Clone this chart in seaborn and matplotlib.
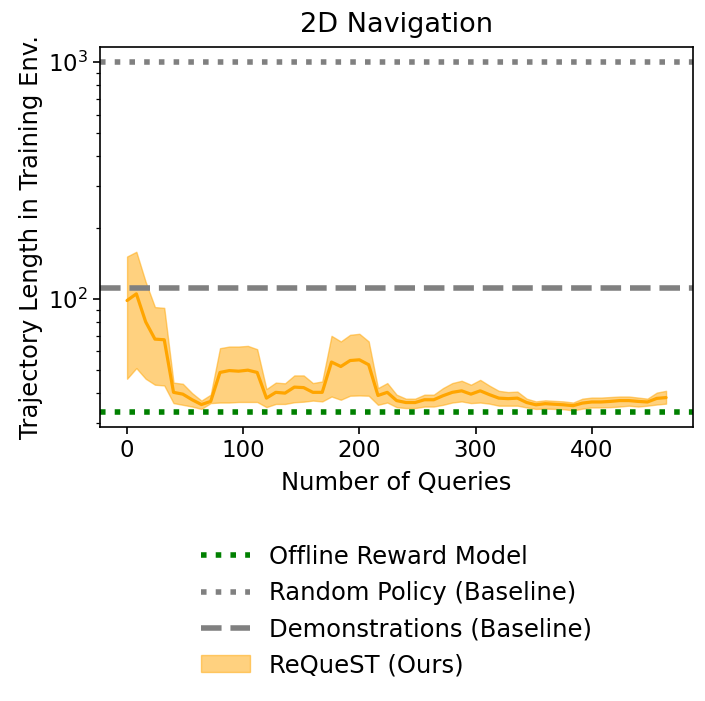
import numpy as np
import pandas as pd
import matplotlib
matplotlib.use("Agg")
import matplotlib.pyplot as plt
import seaborn as sns

# number of queries (step 8)
queries = list(range(0, 465, 8))

# ReQueST mean trajectory length and band
request_mean = [98.4, 105, 80, 67.6, 67.2, 40.3, 39.6, 37.5, 35.8, 36.9,
                48.9, 49.8, 49.5, 50.0, 48.9, 38.1, 40.3, 40.0, 42.4, 42.2,
                40.3, 40.3, 54.1, 51.8, 54.9, 55.3, 52.7, 39.1, 40.3, 37.2,
                36.5, 36.5, 37.5, 37.5, 39.0, 40.3, 40.9, 39.6, 40.9, 39.4,
                38.1, 37.9, 38.1, 36.5, 35.7, 36.1, 35.9, 35.7, 35.4, 36.3,
                36.7, 36.7, 36.9, 37.2, 37.2, 36.9, 36.7, 38.0, 38.3]
request_upper = [150.9, 158, 118, 92.3, 91.6, 44.3, 43.8, 40.0, 37.2, 39.4,
                 61.9, 62.9, 62.9, 63.3, 61.3, 41.6, 44.3, 44.0, 47.5, 47.5,
                 44.1, 44.8, 69.8, 66.1, 70.5, 71.2, 66.1, 42.0, 44.1, 39.4,
                 37.9, 37.9, 39.4, 39.4, 42.0, 44.1, 45.1, 43.4, 45.5, 43.0,
                 40.9, 40.4, 40.6, 37.9, 36.9, 37.3, 37.1, 36.9, 36.5, 37.9,
                 38.3, 38.3, 38.5, 38.7, 38.7, 38.3, 37.9, 40.2, 40.9]
request_lower = [46.0, 51, 46, 43.4, 43.1, 36.3, 35.7, 35.1, 34.3, 36.3,
                 36.5, 36.5, 36.7, 36.7, 36.7, 34.9, 36.0, 36.0, 36.6, 36.8,
                 37.2, 36.9, 38.7, 37.5, 39.0, 39.1, 39.0, 35.7, 36.5, 34.9,
                 34.6, 34.6, 35.1, 35.1, 35.7, 36.5, 36.9, 36.3, 36.5, 36.1,
                 35.4, 35.4, 35.4, 34.8, 34.3, 34.4, 34.3, 34.2, 33.8, 34.4,
                 34.8, 34.8, 34.9, 35.1, 35.4, 35.1, 35.4, 35.8, 36.1]

# baselines
offline_reward_model = 33.3
random_policy = 1000
demonstrations = 111


def main():
    sns.set_style("ticks")
    plt.rcParams["font.family"] = ["DejaVu Sans"]
    plt.rcParams["text.color"] = "black"
    plt.rcParams["axes.labelcolor"] = "black"
    plt.rcParams["xtick.color"] = "black"
    plt.rcParams["ytick.color"] = "black"

    data = pd.DataFrame({"queries": queries, "mean": request_mean,
                         "upper": request_upper, "lower": request_lower})

    fig = plt.figure(figsize=(7.05, 7.01), dpi=100)
    ax = fig.add_axes([0.142, 0.391, 0.841, 0.542])

    h_offline = ax.axhline(offline_reward_model, color="green", linestyle=":", lw=4,
                           label="Offline Reward Model")
    h_random = ax.axhline(random_policy, color="gray", linestyle=":", lw=4,
                          label="Random Policy (Baseline)")
    h_demo = ax.axhline(demonstrations, color="gray", linestyle="--", lw=4,
                        label="Demonstrations (Baseline)")

    sns.lineplot(data=data, x="queries", y="mean", color="orange", lw=2.3, ax=ax)
    h_fill = ax.fill_between(data["queries"], data["lower"], data["upper"],
                             color="orange", alpha=0.5, label="ReQueST (Ours)")

    ax.set_yscale("log")
    ax.set_ylim(28.8, 1157)
    ax.set_xlim(-23.2, 487.2)
    ax.set_title("2D Navigation", fontsize=19.5, color="black", pad=11)
    ax.set_xlabel("Number of Queries", fontsize=17.5, labelpad=7)
    ax.set_ylabel("Trajectory Length in Training Env.", fontsize=17.5)
    ax.tick_params(axis="both", which="major", labelsize=16.5, length=5, width=1.2, color="black")
    ax.tick_params(axis="y", which="minor", length=3, width=0.9, color="black")
    for spine in ax.spines.values():
        spine.set_color("black")
        spine.set_linewidth(1.2)

    ax.legend(handles=[h_offline, h_random, h_demo, h_fill],
              loc="upper center", bbox_to_anchor=(0.5, -0.253),
              frameon=False, fontsize=17.5)

    fig.savefig("out.png", dpi=100)
    plt.close(fig)


if __name__ == "__main__":
    main()
